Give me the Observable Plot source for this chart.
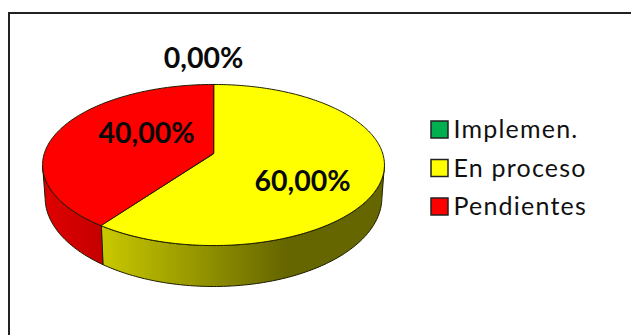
<!DOCTYPE html>
<html>
<head>
<meta charset="utf-8">
<script src="https://cdn.jsdelivr.net/npm/d3@7"></script>
<script src="https://cdn.jsdelivr.net/npm/@observablehq/plot@0.6"></script>
<style>
  html, body { margin: 0; padding: 0; background: #fff; overflow: hidden; }
  svg { display: block; }
</style>
</head>
<body>
<script>
// Estado de las medidas
const categories = ["Implemen.", "En proceso", "Pendientes"];
const shares = [0, 60, 40];
const sliceColors = ["#00b050", "#ffff00", "#ff0000"];

const width = 631, height = 335;

// Perspective model of the 3D disc: the near rim is larger than the far rim
const disc = {cx: 213, cy: 153, a: 169.2, b: 78.9, k: 1 / 7};
// Lower rim of the wall, seen as a plain ellipse
const lowerRim = {cy: 197, rx: 168.4, ry: 89, scale: 0.985};

function project(angle) {
  const u = Math.sin(angle), v = Math.cos(angle);
  const w = 1 + disc.k * v;
  return {x: disc.cx + disc.a * u / w, y: disc.cy - disc.b * v / w};
}

function projectLower(angle) {
  const x = disc.cx + (project(angle).x - disc.cx) * lowerRim.scale;
  const t = (x - disc.cx) / lowerRim.rx;
  return {x, y: lowerRim.cy + lowerRim.ry * Math.sqrt(Math.max(0, 1 - t * t))};
}

function arcAngles(a0, a1) {
  const n = Math.max(2, Math.ceil((a1 - a0) / (Math.PI / 180)));
  return d3.range(n + 1).map((i) => a0 + (a1 - a0) * i / n);
}

const arcs = d3.pie().sort(null).value((d) => d.share)(
  categories.map((category, i) => ({category, share: shares[i]}))
).filter((s) => s.data.share > 0);

// Top face: one closed polygon per slice, vertex at the disc centre
const topFaces = arcs.flatMap((s) => [
  {x: disc.cx, y: disc.cy, category: s.data.category},
  ...arcAngles(s.startAngle, s.endAngle).map((t) => ({...project(t), category: s.data.category}))
]);

// Outer wall: only the part of each slice that faces the viewer,
// bounded by the angles where the rim is tangent to the silhouette
const frontStart = Math.acos(-disc.k), frontEnd = 2 * Math.PI - frontStart;
const wallFill = {"En proceso": "url(#wall-yellow)", "Pendientes": "url(#wall-red)"};
const walls = arcs.flatMap((s) => {
  const a0 = Math.max(s.startAngle, frontStart), a1 = Math.min(s.endAngle, frontEnd);
  if (a1 <= a0) return [];
  const ts = arcAngles(a0, a1);
  return [
    ...ts.map((t) => ({...project(t), category: s.data.category})),
    ...ts.slice().reverse().map((t) => ({...projectLower(t), category: s.data.category}))
  ];
});

// Value labels, written the way the sheet formats them
const percent = (v) => v.toFixed(2).replace(".", ",") + "%";
const labelAnchors = [[203, 58], [302, 181], [146, 133]];
const valueLabels = categories.map((category, i) => ({
  text: percent(shares[i]), x: labelAnchors[i][0], y: labelAnchors[i][1]
}));

// Legend rows
const legend = categories.map((category, i) => ({category, y: 129.5 + i * 38.5}));
const swatch = {x: 431, size: 17};

function wallGradients() {
  const ns = "http://www.w3.org/2000/svg";
  const defs = document.createElementNS(ns, "defs");
  const add = (id, stops) => {
    const g = document.createElementNS(ns, "linearGradient");
    g.setAttribute("id", id);
    for (const [offset, color] of stops) {
      const s = document.createElementNS(ns, "stop");
      s.setAttribute("offset", offset);
      s.setAttribute("stop-color", color);
      g.appendChild(s);
    }
    defs.appendChild(g);
  };
  add("wall-yellow", [[0, "#c9c900"], [0.65, "#666600"], [1, "#666600"]]);
  add("wall-red", [[0, "#e00000"], [1, "#c40000"]]);
  return defs;
}

const chart = Plot.plot({
  width, height,
  margin: 0,
  x: {domain: [0, width], range: [0, width], axis: null},
  y: {domain: [0, height], range: [0, height], axis: null},
  color: {domain: categories, range: sliceColors},
  style: {background: "#fff"},
  marks: [
    wallGradients,
    Plot.ruleY([12.5], {x1: 8, x2: width, stroke: "#222", strokeWidth: 2}),
    Plot.ruleX([8.5], {y1: 12, y2: height, stroke: "#222", strokeWidth: 2}),
    ...["En proceso", "Pendientes"].map((category) =>
      Plot.line(walls.filter((d) => d.category === category), {
        x: "x", y: "y", curve: "linear-closed",
        fill: wallFill[category],
        stroke: "#1c1c00", strokeWidth: 1
      })
    ),
    Plot.line(topFaces, {
      x: "x", y: "y", z: "category", curve: "linear-closed",
      fill: "category", stroke: "#1c1c00", strokeWidth: 1
    }),
    Plot.text(valueLabels, {
      x: "x", y: "y", text: "text",
      fontFamily: "Lato", fontWeight: "bold", fontSize: 28.5, fill: "#0a0a0a"
    }),
    Plot.rect(legend, {
      x1: swatch.x, x2: swatch.x + swatch.size,
      y1: (d) => d.y - swatch.size / 2, y2: (d) => d.y + swatch.size / 2,
      fill: "category", stroke: "#222", strokeWidth: 1.5
    }),
    Plot.text(legend, {
      x: 453, y: "y", text: "category", textAnchor: "start",
      fontFamily: "Lato", fontSize: 25, fill: "#111"
    })
  ]
});

// Open up the legend lettering slightly
const textGroups = chart.querySelectorAll('g[aria-label="text"]');
textGroups[textGroups.length - 1].setAttribute("letter-spacing", "1.2");

document.body.appendChild(chart);
</script>
</body>
</html>
